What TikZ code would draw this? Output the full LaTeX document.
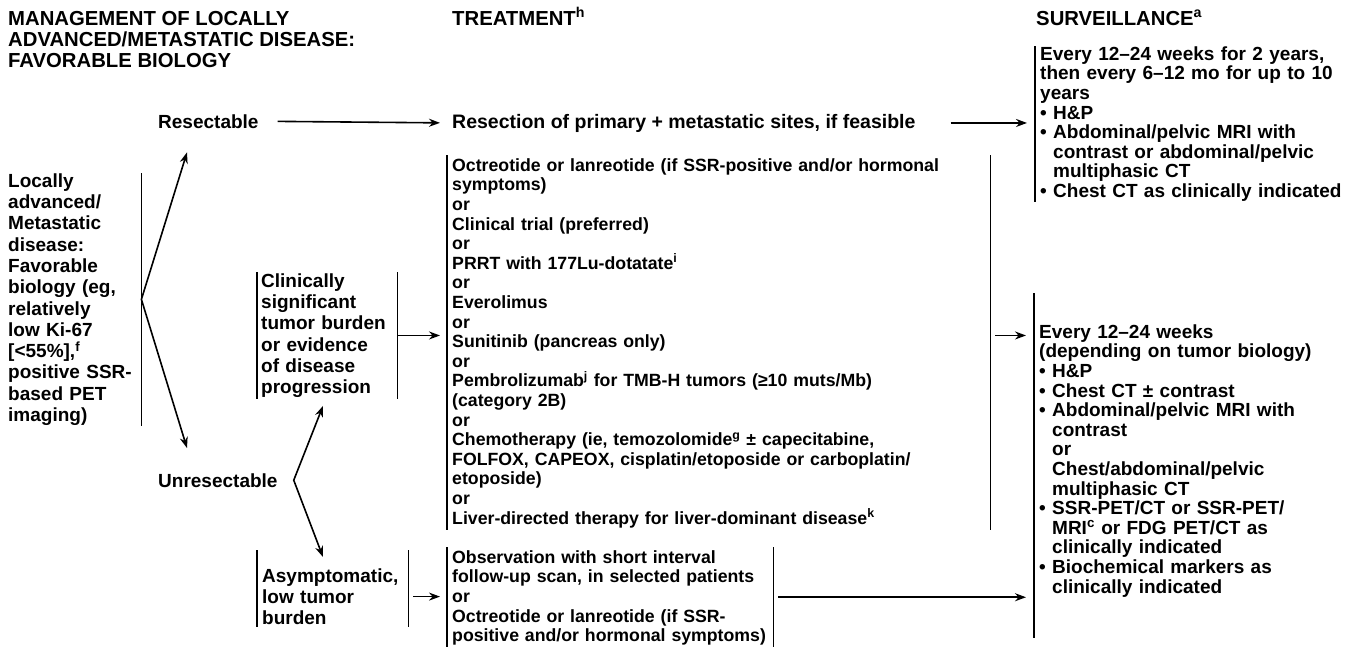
\documentclass[tikz,border=0pt]{standalone}
\usepackage{fontspec}
\setmainfont{Liberation Sans}
\usetikzlibrary{arrows.meta,positioning}
\newcommand\firstln{\rule{0pt}{14pt}}
\newcommand\bltind{\phantom{\textbullet\ }}

\begin{document}
\begin{tikzpicture}[x=1pt, y=-1pt,
    lbl/.style={font=\bfseries\fontsize{19}{19.6}\selectfont, inner sep=0pt, anchor=base west},
    blk/.style={font=\bfseries\fontsize{19}{19.6}\selectfont, inner sep=0pt, align=left, anchor=north west},
    loose/.style={font=\bfseries\fontsize{19}{21.3}\selectfont},
    tight/.style={font=\bfseries\fontsize{17.7}{19.6}\selectfont},
    head/.style={font=\bfseries\fontsize{20.3}{21}\selectfont},
    bar/.style={line width=1.8pt},
    arr/.style={-{Stealth[length=11pt,width=8pt]}, line width=1.6pt},
    arrtwo/.style={{Stealth[length=11pt,width=8pt]}-{Stealth[length=11pt,width=8pt]}, line width=1.6pt}
]
\useasboundingbox (0,0) rectangle (1351,648);

% Column heads
\node[blk, head] (mgmt) at (8,11) {\firstln MANAGEMENT OF LOCALLY\\ADVANCED/METASTATIC DISEASE:\\FAVORABLE BIOLOGY};
\node[lbl, head] (trthead) at (452,25) {TREATMENT\textsuperscript{h}};
\node[lbl, head] (survhead) at (1036,25) {SURVEILLANCE\textsuperscript{a}};

% Presentation
\node[blk, loose, text width=133pt] (dis) at (8,173) {\firstln Locally\\advanced/\\Metastatic\\disease:\\Favorable\\biology (eg,\\relatively\\low Ki-67\\{[}<55\%],\textsuperscript{f}\\positive SSR-\\based PET\\imaging)};
\draw[bar] (dis.north east) -- (dis.south east);

\node[lbl] (res) at (158,128) {Resectable};
\node[lbl] (unr) at (158,487) {Unresectable};
\draw[arrtwo] ([xshift=29pt,yshift=-24pt]res.south west) -- (dis.east) -- ([xshift=29pt,yshift=25pt]unr.north west);

% Resectable branch
\node[lbl, font=\bfseries\fontsize{19.5}{19.6}\selectfont] (rsc) at (452,128) {Resection of primary + metastatic sites, if feasible};
\draw[arr, shorten <=19pt, shorten >=12pt] (res.east) -- (rsc.west);

% Unresectable branches
\node[blk, loose, inner xsep=4pt, inner ysep=1pt, text width=132pt] (cli) at (257,272) {\firstln Clinically\\significant\\tumor burden\\or evidence\\of disease\\progression};
\draw[bar] (cli.north west) -- (cli.south west);
\draw[bar] (cli.north east) -- (cli.south east);

\node[blk, loose, inner xsep=5pt, text width=141pt] (asy) at (257,568) {\firstln Asymptomatic,\\low tumor\\burden};
\draw[bar] ([yshift=18pt]asy.north west) -- ([yshift=-2pt]asy.south west);
\draw[bar] ([yshift=18pt]asy.north east) -- ([yshift=-2pt]asy.south east);

\coordinate (fork) at ([xshift=16pt]unr.east);
\draw[arrtwo] ([xshift=66pt,yshift=-7pt]cli.south west) -- (fork) -- ([xshift=66pt,yshift=11pt]asy.north west);

% Treatment options
\node[blk, tight, inner xsep=5pt, inner ysep=2pt, text width=533pt] (trt) at (447,155) {\firstln Octreotide or lanreotide (if SSR-positive and/or hormonal\\symptoms)\\or\\Clinical trial (preferred)\\or\\PRRT with 177Lu-dotatate\textsuperscript{i}\\or\\Everolimus\\or\\Sunitinib (pancreas only)\\or\\Pembrolizumab\textsuperscript{j} for TMB-H tumors (≥10 muts/Mb)\\(category 2B)\\or\\Chemotherapy (ie, temozolomide\textsuperscript{g} ± capecitabine,\\FOLFOX, CAPEOX, cisplatin/etoposide or carboplatin/\\etoposide)\\or\\Liver-directed therapy for liver-dominant disease\textsuperscript{k}};
\draw[bar] (trt.north west) -- (trt.south west);
\draw[bar] (trt.north east) -- (trt.south east);
\draw[arr, shorten >=7pt] (cli.east) -- (cli.east -| trt.west);

\node[blk, tight, inner xsep=5pt, inner ysep=2pt, text width=316pt] (obs) at (447,547) {\firstln Observation with short interval\\follow-up scan, in selected patients\\or\\Octreotide or lanreotide (if SSR-\\positive and/or hormonal symptoms)};
\draw[bar] (obs.north west) -- (obs.south west);
\draw[bar] (obs.north east) -- (obs.south east);
\draw[arr, shorten <=5pt, shorten >=7pt] (asy.east) -- (asy.east -| obs.west);

% Surveillance
\node[blk, inner xsep=5pt, text width=306pt] (sv1) at (1035,46) {\firstln Every 12--24 weeks for 2 years,\\then every 6--12 mo for up to 10\\years\\\textbullet\ H\&P\\\textbullet\ Abdominal/pelvic MRI with\\\bltind contrast or abdominal/pelvic\\\bltind multiphasic CT\\\textbullet\ Chest CT as clinically indicated};
\draw[bar] (sv1.north west) -- (sv1.south west);
\draw[arr, shorten <=35pt, shorten >=8pt] (rsc.east) -- (rsc.east -| sv1.west);

\node[blk, inner xsep=5pt, text width=306pt] (sv2) at (1034,324) {\firstln Every 12--24 weeks\\(depending on tumor biology)\\\textbullet\ H\&P\\\textbullet\ Chest CT ± contrast\\\textbullet\ Abdominal/pelvic MRI with\\\bltind contrast\\\bltind or\\\bltind Chest/abdominal/pelvic\\\bltind multiphasic CT\\\textbullet\ SSR-PET/CT or SSR-PET/\\\bltind MRI\textsuperscript{c} or FDG PET/CT as\\\bltind clinically indicated\\\textbullet\ Biochemical markers as\\\bltind clinically indicated};
\draw[bar] ([yshift=31pt]sv2.north west) -- ([yshift=-41pt]sv2.south west);
\draw[arr, shorten <=5pt, shorten >=8pt] (cli.east -| trt.east) -- (cli.east -| sv2.west);
\draw[arr, shorten <=5pt, shorten >=8pt] (obs.east) -- (obs.east -| sv2.west);

\end{tikzpicture}
\end{document}
